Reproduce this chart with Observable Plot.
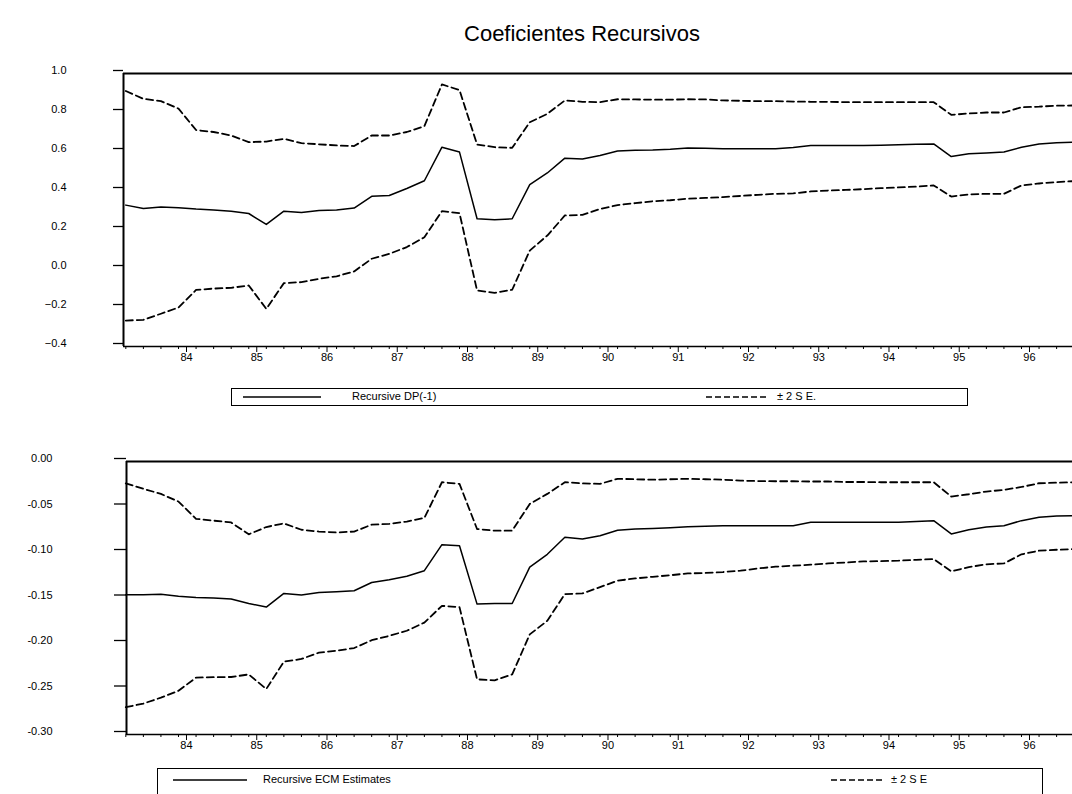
<!DOCTYPE html>
<html>
<head>
<meta charset="utf-8">
<script src="https://cdn.jsdelivr.net/npm/d3@7"></script>
<script src="https://cdn.jsdelivr.net/npm/@observablehq/plot@0.6"></script>
<style>
  html, body { margin: 0; padding: 0; background: #fff; }
  #root { position: relative; width: 1072px; height: 794px; overflow: hidden; background: #fff;
          font-family: "Liberation Sans", Arial, Helvetica, sans-serif; color: #000; }
  .abs { position: absolute; }
  #title { top: 22px; left: 582px; transform: translateX(-50%); font-size: 22px; line-height: 24px; white-space: nowrap; }
  .legend { position: absolute; border: 1.5px solid #000; box-sizing: border-box; background: #fff; }
  .legend svg { position: absolute; left: 0; top: 0; overflow: visible; }
</style>
</head>
<body>
<div id="root">
  <div id="title" class="abs">Coeficientes Recursivos</div>
</div>
<script>
// ---- Data (quarterly, 1983Q2 .. 1996Q4) ----
const startQuarter = 1983.25;   // 1983Q2
const nQuarters = 55;           // through 1996Q4
const quarters = d3.range(nQuarters).map(i => startQuarter + i * 0.25);

// Panel 1: Recursive DP(-1) with ±2 S.E.
const dpRec = [0.325,0.308,0.315,0.312,0.305,0.300,0.294,0.282,0.226,0.294,0.287,0.297,0.300,0.310,0.370,0.374,0.410,0.450,0.622,0.597,0.255,0.250,0.255,0.430,0.490,0.566,0.562,0.580,0.603,0.606,0.608,0.612,0.618,0.617,0.614,0.614,0.614,0.614,0.620,0.631,0.631,0.631,0.631,0.632,0.634,0.637,0.639,0.574,0.588,0.592,0.597,0.622,0.639,0.645,0.648];
const dpUpper = [0.910,0.870,0.858,0.820,0.710,0.700,0.682,0.648,0.651,0.665,0.643,0.637,0.631,0.628,0.682,0.682,0.700,0.730,0.944,0.915,0.636,0.622,0.619,0.750,0.793,0.862,0.855,0.853,0.868,0.867,0.866,0.866,0.868,0.867,0.862,0.860,0.858,0.858,0.856,0.855,0.855,0.853,0.853,0.853,0.853,0.853,0.853,0.788,0.795,0.800,0.800,0.827,0.830,0.835,0.836];
const dpLower = [-0.267,-0.263,-0.232,-0.200,-0.110,-0.103,-0.099,-0.087,-0.207,-0.075,-0.070,-0.053,-0.040,-0.015,0.050,0.075,0.110,0.160,0.294,0.284,-0.113,-0.125,-0.109,0.092,0.169,0.272,0.275,0.305,0.325,0.335,0.345,0.350,0.358,0.362,0.366,0.372,0.378,0.383,0.385,0.395,0.400,0.403,0.407,0.412,0.416,0.420,0.426,0.369,0.380,0.383,0.383,0.426,0.436,0.443,0.448];

// Panel 2: Recursive ECM estimates with ±2 S.E.
const ecmRec = [-0.1465,-0.1465,-0.1460,-0.1480,-0.1494,-0.1500,-0.1512,-0.1560,-0.1600,-0.1450,-0.1468,-0.1440,-0.1430,-0.1420,-0.1330,-0.1300,-0.1260,-0.1200,-0.0914,-0.0925,-0.1567,-0.1560,-0.1560,-0.1160,-0.1020,-0.0833,-0.0852,-0.0815,-0.0755,-0.0742,-0.0735,-0.0728,-0.0718,-0.0712,-0.0705,-0.0705,-0.0705,-0.0705,-0.0705,-0.0668,-0.0668,-0.0668,-0.0668,-0.0668,-0.0668,-0.0660,-0.0650,-0.0796,-0.0750,-0.0720,-0.0705,-0.0650,-0.0613,-0.0600,-0.0595];
const ecmUpper = [-0.0240,-0.0300,-0.0356,-0.0440,-0.0630,-0.0650,-0.0670,-0.0800,-0.0720,-0.0680,-0.0750,-0.0770,-0.0780,-0.0770,-0.0694,-0.0686,-0.0660,-0.0620,-0.0228,-0.0246,-0.0742,-0.0760,-0.0760,-0.0466,-0.0356,-0.0228,-0.0240,-0.0246,-0.0190,-0.0195,-0.0200,-0.0195,-0.0190,-0.0195,-0.0200,-0.0210,-0.0215,-0.0217,-0.0217,-0.0220,-0.0220,-0.0225,-0.0225,-0.0228,-0.0228,-0.0228,-0.0228,-0.0385,-0.0360,-0.0330,-0.0312,-0.0280,-0.0239,-0.0233,-0.0228];
const ecmLower = [-0.2700,-0.2660,-0.2595,-0.2520,-0.2375,-0.2370,-0.2368,-0.2340,-0.2500,-0.2200,-0.2170,-0.2100,-0.2080,-0.2050,-0.1964,-0.1916,-0.1860,-0.1770,-0.1586,-0.1600,-0.2394,-0.2405,-0.2340,-0.1900,-0.1750,-0.1457,-0.1450,-0.1380,-0.1310,-0.1285,-0.1267,-0.1250,-0.1230,-0.1225,-0.1215,-0.1200,-0.1175,-0.1156,-0.1145,-0.1134,-0.1120,-0.1110,-0.1098,-0.1095,-0.1090,-0.1080,-0.1072,-0.1208,-0.1160,-0.1130,-0.1120,-0.1020,-0.0980,-0.0970,-0.0962];

// Tick labels
const yearTicks = [1984,1985,1986,1987,1988,1989,1990,1991,1992,1993,1994,1995,1996];
const yearLabels = ["84","85","86","87","88","89","90","91","92","93","94","95","96"];
const topYTicks = [-0.4,-0.2,0.0,0.2,0.4,0.6,0.8,1.0];
const bottomYTicks = [-0.30,-0.25,-0.20,-0.15,-0.10,-0.05,0.00];

// Legend texts
const topLegend = ["Recursive DP(-1)", "± 2 S E."];
const bottomLegend = ["Recursive ECM Estimates", "± 2 S E"];

// ---- Build ----
const font = '"Liberation Sans", Arial, Helvetica, sans-serif';
const toRows = arr => arr.map((v, i) => ({t: quarters[i], v}));
const quarterTickVals = d3.range(1983.25, 1996.76, 0.25);

function panel({rec, up, lo, yDomain, yTicks, yFmt, xDomain, marginLeft, tickSize, tickPadding}) {
  return Plot.plot({
    width: 1072, height: 320,
    marginLeft, marginRight: 0, marginTop: 13, marginBottom: 34,
    x: {domain: xDomain},
    y: {domain: yDomain},
    style: {fontFamily: font, fontSize: "11px", color: "#000", background: "transparent"},
    marks: [
      Plot.axisY({ticks: yTicks, tickSize, tickPadding, tickFormat: yFmt, dy: -3, label: null, strokeWidth: 1.3}),
      Plot.axisX({ticks: quarterTickVals, tickSize: 3, tickFormat: () => "", label: null}),
      Plot.axisX({ticks: yearTicks, tickSize: 6, tickPadding: 1, tickFormat: d => yearLabels[yearTicks.indexOf(d)], dx: 8, label: null}),
      Plot.ruleY([yDomain[1]], {strokeWidth: 2}),
      Plot.ruleY([yDomain[0]], {strokeWidth: 1.5}),
      Plot.ruleX([xDomain[0]], {strokeWidth: 2}),
      Plot.line(toRows(up), {x: "t", y: "v", stroke: "#000", strokeWidth: 1.8, strokeDasharray: "7,4"}),
      Plot.line(toRows(lo), {x: "t", y: "v", stroke: "#000", strokeWidth: 1.8, strokeDasharray: "7,4"}),
      Plot.line(toRows(rec), {x: "t", y: "v", stroke: "#000", strokeWidth: 1.5})
    ]
  });
}

const root = document.getElementById("root");

const top1 = panel({rec: dpRec, up: dpUpper, lo: dpLower, yDomain: [-0.4, 1.0], yTicks: topYTicks,
  yFmt: d3.format(".1f"), xDomain: [1983.217, 1996.726], marginLeft: 123, tickSize: 10, tickPadding: 47});
top1.style.position = "absolute"; top1.style.left = "0px"; top1.style.top = "60px";
root.appendChild(top1);

const bot1 = panel({rec: ecmRec, up: ecmUpper, lo: ecmLower, yDomain: [-0.30, 0.00], yTicks: bottomYTicks,
  yFmt: d => d3.format(".2f")(d).replace("−", "-"), xDomain: [1983.26, 1996.726], marginLeft: 126, tickSize: 12, tickPadding: 62});
bot1.style.position = "absolute"; bot1.style.left = "0px"; bot1.style.top = "448px";
root.appendChild(bot1);

function legend({left, top, width, height, solid, text1, dash, text2, ty}) {
  const div = document.createElement("div");
  div.className = "legend";
  Object.assign(div.style, {left: left + "px", top: top + "px", width: width + "px", height: height + "px"});
  const ns = "http://www.w3.org/2000/svg";
  const svg = document.createElementNS(ns, "svg");
  svg.setAttribute("width", width); svg.setAttribute("height", height);
  const mk = (tag, attrs) => { const e = document.createElementNS(ns, tag); for (const k in attrs) e.setAttribute(k, attrs[k]); svg.appendChild(e); return e; };
  mk("line", {x1: solid[0] - left, x2: solid[1] - left, y1: ty, y2: ty, stroke: "#000", "stroke-width": 1.5});
  mk("line", {x1: dash[0] - left, x2: dash[1] - left, y1: ty, y2: ty, stroke: "#000", "stroke-width": 1.5, "stroke-dasharray": "6,3"});
  const t1 = mk("text", {x: text1[1] - left, y: ty, "dominant-baseline": "middle", "font-size": 11, "font-family": font});
  t1.textContent = text1[0];
  const t2 = mk("text", {x: text2[1] - left, y: ty, "dominant-baseline": "middle", "font-size": 11, "font-family": font});
  t2.textContent = text2[0];
  div.appendChild(svg);
  root.appendChild(div);
}

legend({left: 231, top: 388, width: 737, height: 18, solid: [242, 320], text1: [topLegend[0], 351],
        dash: [705, 768], text2: [topLegend[1], 776], ty: 8});
legend({left: 157, top: 768, width: 886, height: 40, solid: [172, 246], text1: [bottomLegend[0], 262],
        dash: [830, 882], text2: [bottomLegend[1], 890], ty: 11});
</script>
</body>
</html>
